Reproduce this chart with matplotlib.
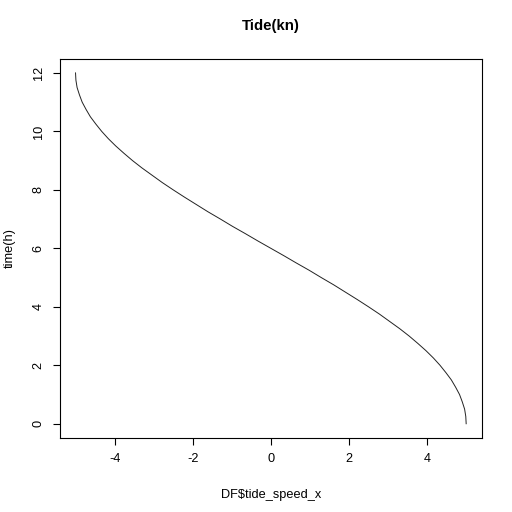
import matplotlib
matplotlib.use("Agg")
import matplotlib.pyplot as plt

time_h = [0.0, 0.25, 0.5, 0.75, 1.0, 1.25, 1.5, 1.75, 2.0, 2.25, 2.5, 2.75, 3.0,
          3.25, 3.5, 3.75, 4.0, 4.25, 4.5, 4.75, 5.0, 5.25, 5.5, 5.75, 6.0,
          6.25, 6.5, 6.75, 7.0, 7.25, 7.5, 7.75, 8.0, 8.25, 8.5, 8.75, 9.0,
          9.25, 9.5, 9.75, 10.0, 10.25, 10.5, 10.75, 11.0, 11.25, 11.5, 11.75, 12.0]
speed_half = [5.00, 4.99, 4.96, 4.90, 4.83, 4.73, 4.62, 4.48, 4.33, 4.16, 3.97, 3.76,
              3.54, 3.30, 3.04, 2.78, 2.50, 2.21, 1.91, 1.61, 1.29, 0.98, 0.65, 0.33]
tide_speed_x = speed_half + [0.00] + [-v for v in reversed(speed_half)]

xticks = [-4, -2, 0, 2, 4]
yticks = [0, 2, 4, 6, 8, 10, 12]

plt.rcParams['font.family'] = ['Liberation Sans', 'DejaVu Sans']
fs = 9.2
fig = plt.figure(figsize=(5.12, 5.12), dpi=100)
ax = fig.add_axes([0.117, 0.145, 0.824, 0.74])
ax.plot(tide_speed_x, time_h, color='#222222', lw=0.7)
ax.set_xlim(-5.4, 5.4)
ax.set_ylim(-0.48, 12.48)
ax.set_xticks(xticks)
ax.set_yticks(yticks)
ax.set_xticklabels([str(v) for v in xticks], fontsize=fs)
ax.set_yticklabels([str(v) for v in yticks], fontsize=fs, rotation=90, va='center')
ax.tick_params(direction='out', length=5, width=0.8, pad=6)
for s in ax.spines.values():
    s.set_linewidth(0.8)
ax.set_xlabel('DF$tide_speed_x', fontsize=fs)
ax.xaxis.set_label_coords(0.5, -0.134)
ax.set_ylabel('time(h)', fontsize=fs)
ax.yaxis.set_label_coords(-0.104, 0.5)
ax.set_title('Tide(kn)', fontsize=10.8, fontweight='bold', y=1.055)
fig.savefig('out.png', dpi=100)
